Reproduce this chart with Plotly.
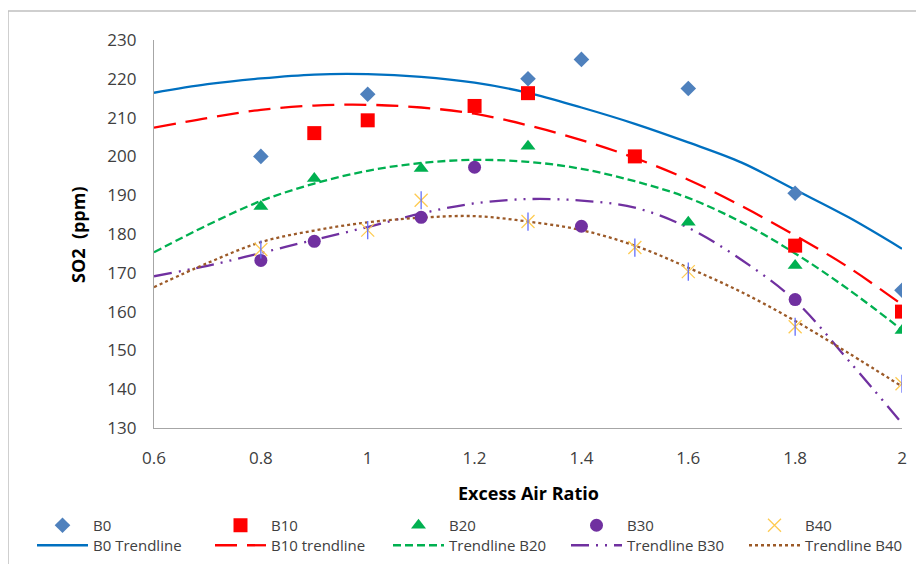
import plotly.graph_objects as go

# ---- data ----
b0_x = [0.8, 1.0, 1.3, 1.4, 1.6, 1.8, 2.0]
b0_y = [200, 216, 220, 225, 217.5, 190.5, 165.5]

b10_x = [0.9, 1.0, 1.2, 1.3, 1.5, 1.8, 2.0]
b10_y = [206, 209.3, 213, 216.3, 200, 177, 160]

b20_x = [0.8, 0.9, 1.1, 1.3, 1.6, 1.8, 2.0]
b20_y = [187.1, 194.3, 196.9, 202.6, 183, 171.9, 155.1]

b30_x = [0.8, 0.9, 1.1, 1.2, 1.4, 1.8]
b30_y = [173.2, 178.1, 184.3, 197.2, 182, 163.1]

b40_x = [0.8, 1.0, 1.1, 1.3, 1.5, 1.6, 1.8, 2.0]
b40_y = [176, 181, 188.7, 183.2, 176.5, 170.3, 156.1, 141.4]

# trendline curves
trend_x = [0.6, 0.7, 0.8, 0.9, 1.0, 1.1, 1.2, 1.3, 1.4, 1.5, 1.6, 1.7, 1.8, 1.9, 2.0]
trend_b0 = [216.4, 218.6, 220.1, 221.1, 221.2, 220.5, 219.0, 216.4, 212.6, 208.4, 203.6, 198.4, 191.4, 184.3, 176.2]
trend_b10 = [207.4, 209.9, 212.0, 213.1, 213.3, 212.6, 211.0, 208.0, 204.2, 199.6, 194.0, 187.2, 179.6, 171.4, 161.8]
trend_b20 = [175.3, 182.3, 188.5, 193.0, 196.3, 198.3, 199.1, 198.6, 196.8, 193.6, 189.3, 183.0, 175.0, 165.7, 155.3]
trend_b30 = [169.1, 171.8, 175.1, 178.5, 181.8, 185.3, 187.9, 189.0, 188.6, 186.8, 181.6, 173.3, 162.8, 147.4, 131.2]
trend_b40 = [166.3, 172.5, 177.9, 180.9, 183.0, 184.2, 184.6, 183.2, 181.0, 177.0, 171.3, 165.0, 157.6, 149.3, 140.7]

FONT = "Open Sans"
TXT = "#404040"

fig = go.Figure()

# trendlines (legend 2)
lines = [
    ("B0 Trendline", trend_b0, "#0070C0", "solid"),
    ("B10 trendline", trend_b10, "#FF0000", "22px,10px"),
    ("Trendline B20", trend_b20, "#00B050", "8px,4px"),
    ("Trendline B30", trend_b30, "#7030A0", "18px,7px,2px,7px,2px,7px"),
    ("Trendline B40", trend_b40, "#9C5A28", "dot"),
]
for name, ys, col, dash in lines:
    fig.add_trace(go.Scatter(
        x=trend_x, y=ys, mode="lines", name=name, legend="legend2",
        line=dict(color=col, width=2.3, dash=dash, shape="spline", smoothing=1.0),
        hoverinfo="skip"))

# markers (legend 1)
fig.add_trace(go.Scatter(x=b0_x, y=b0_y, mode="markers", name="B0",
                         marker=dict(symbol="diamond", size=12, color="#4F81BD")))
fig.add_trace(go.Scatter(x=b10_x, y=b10_y, mode="markers", name="B10",
                         marker=dict(symbol="square", size=14, color="#FF0000")))
fig.add_trace(go.Scatter(x=b20_x, y=b20_y, mode="markers", name="B20",
                         marker=dict(symbol="triangle-up", size=13, color="#00B050")))
fig.add_trace(go.Scatter(x=b30_x, y=b30_y, mode="markers", name="B30",
                         marker=dict(symbol="circle", size=13, color="#7030A0")))
fig.add_trace(go.Scatter(x=b40_x, y=b40_y, mode="markers", name="B40",
                         marker=dict(symbol="x-thin-open", size=13,
                                     line=dict(color="#B0734A", width=1.3))))
fig.add_trace(go.Scatter(x=b40_x, y=b40_y, mode="markers", name="B40",
                         showlegend=False,
                         marker=dict(symbol="line-ns-open", size=13,
                                     line=dict(color="#B0734A", width=1.3))))

# page body has an 8px margin: build the figure so that the screen layout matches
OFF = 8
FW, FH = 908, 556
SL, SR, ST, SB = 154, 902, 40, 428  # plot area in screen pixels
L, T = SL - OFF, ST - OFF
R = FW - (SR - OFF)
B = FH - (SB - OFF)


def px(xs):
    return (xs - SL) / (SR - SL)


def py(ys):
    return (SB - ys) / (SB - ST)


fig.update_layout(
    width=FW, height=FH,
    margin=dict(l=L, r=R, t=T, b=B, autoexpand=False),
    paper_bgcolor="white", plot_bgcolor="white",
    font=dict(family=FONT, size=17, color=TXT),
    xaxis=dict(range=[0.6, 2.0], tick0=0.6, dtick=0.2, showgrid=False, zeroline=False,
               showline=True, linecolor="#A6A6A6", linewidth=1.3, ticks="",
               ticklabelstandoff=14, tickfont=dict(size=17, color=TXT)),
    yaxis=dict(range=[130, 230], dtick=10, showgrid=False, zeroline=False,
               showline=True, linecolor="#A6A6A6", linewidth=1.3, ticks="",
               ticklabelstandoff=13, tickfont=dict(size=17, color=TXT)),
    legend=dict(orientation="h", x=px(24 + OFF), xanchor="left", y=py(525.5), yanchor="middle",
                entrywidth=112, entrywidthmode="pixels", itemwidth=51,
                bgcolor="rgba(0,0,0,0)", font=dict(size=15, color=TXT),
                traceorder="normal"),
    legend2=dict(orientation="h", x=px(24 + OFF), xanchor="left", y=py(545.5), yanchor="middle",
                 entrywidth=112, entrywidthmode="pixels", itemwidth=51,
                 bgcolor="rgba(0,0,0,0)", font=dict(size=15, color=TXT),
                 traceorder="normal"),
    showlegend=True,
    annotations=[
        dict(text="<b>Excess Air Ratio</b>", xref="paper", yref="paper",
             x=0.5, y=py(493), xanchor="center", yanchor="middle", showarrow=False,
             font=dict(size=18, color="#000000", family=FONT)),
        dict(text="<b>SO2  (ppm)</b>", xref="paper", yref="paper",
             x=px(78), y=py(235), xanchor="center", yanchor="middle", showarrow=False,
             textangle=-90, font=dict(size=18, color="#000000", family=FONT)),
    ],
    shapes=[
        dict(type="line", xref="paper", yref="paper",
             x0=px(8), x1=px(8), y0=py(600), y1=py(11),
             line=dict(color="#BFBFBF", width=1.5), layer="above"),
        dict(type="line", xref="paper", yref="paper",
             x0=px(8), x1=px(960), y0=py(11), y1=py(11),
             line=dict(color="#BFBFBF", width=1.5), layer="above"),
    ],
)

fig.write_html("out.html")
